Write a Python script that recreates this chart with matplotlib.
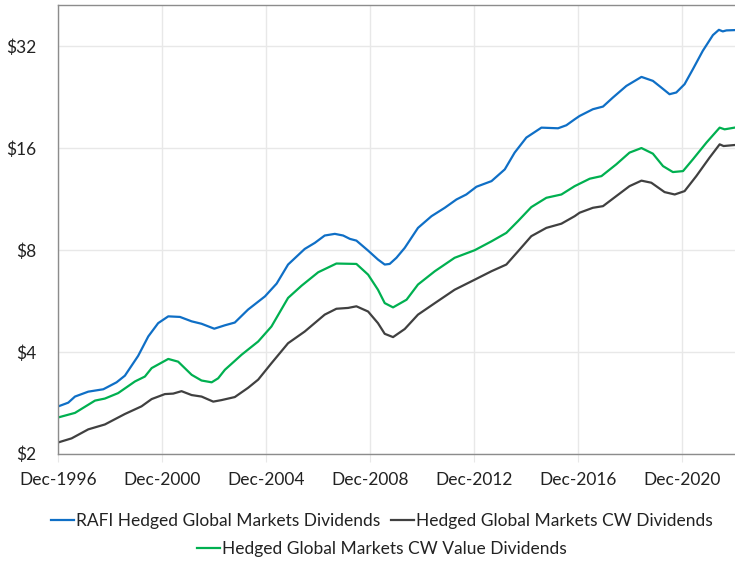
import matplotlib
matplotlib.use("Agg")
import matplotlib.pyplot as plt
from matplotlib.ticker import FixedLocator, NullLocator
from matplotlib.lines import Line2D

plt.rcParams['font.family'] = ['Lato', 'DejaVu Sans']

# decimal years (Dec-1996 = 1996.917) and growth of $2
rafi_t = [1996.92, 1997.30, 1997.56, 1998.07, 1998.65, 1999.16, 1999.48, 1999.99, 2000.38, 2000.76,
          2001.15, 2001.60, 2002.05, 2002.43, 2002.92, 2003.33, 2003.71, 2004.22, 2004.87, 2005.32,
          2005.76, 2006.40, 2006.79, 2007.17, 2007.56, 2007.88, 2008.14, 2008.39, 2008.84, 2009.22,
          2009.48, 2009.67, 2009.93, 2010.25, 2010.76, 2011.28, 2011.79, 2012.24, 2012.62, 2013.01,
          2013.59, 2014.10, 2014.48, 2014.93, 2015.51, 2016.15, 2016.47, 2016.79, 2016.98, 2017.49,
          2017.88, 2018.26, 2018.78, 2019.36, 2019.80, 2020.12, 2020.44, 2020.70, 2021.02, 2021.34,
          2021.72, 2022.11, 2022.34, 2022.49, 2022.63, 2022.94]
rafi_v = [2.76, 2.83, 2.95, 3.05, 3.10, 3.25, 3.40, 3.89, 4.44, 4.86,
          5.09, 5.07, 4.92, 4.84, 4.68, 4.79, 4.88, 5.33, 5.83, 6.36,
          7.24, 8.05, 8.39, 8.82, 8.92, 8.82, 8.62, 8.52, 7.96, 7.49,
          7.24, 7.27, 7.58, 8.11, 9.29, 10.06, 10.65, 11.27, 11.66, 12.29,
          12.77, 13.83, 15.50, 17.17, 18.37, 18.29, 18.67, 19.44, 19.89, 20.82,
          21.20, 22.54, 24.40, 25.94, 25.25, 24.14, 23.06, 23.33, 24.69, 27.34,
          30.97, 34.47, 35.73, 35.35, 35.59, 35.66]

cw_t = [1996.92, 1997.43, 1998.07, 1998.71, 1999.48, 2000.12, 2000.51, 2001.02, 2001.34, 2001.66,
        2002.05, 2002.43, 2002.88, 2003.20, 2003.71, 2004.22, 2004.61, 2005.12, 2005.76, 2006.40,
        2007.17, 2007.62, 2008.07, 2008.39, 2008.84, 2009.22, 2009.48, 2009.80, 2010.25, 2010.76,
        2011.41, 2012.17, 2012.94, 2013.59, 2014.16, 2014.61, 2015.12, 2015.70, 2016.28, 2016.79,
        2016.98, 2017.49, 2017.88, 2018.39, 2018.90, 2019.36, 2019.74, 2020.25, 2020.64, 2021.02,
        2021.47, 2021.98, 2022.37, 2022.52, 2022.94]
cw_v = [2.16, 2.22, 2.36, 2.44, 2.62, 2.76, 2.90, 3.00, 3.01, 3.06,
        2.98, 2.95, 2.85, 2.88, 2.94, 3.13, 3.31, 3.70, 4.24, 4.59,
        5.15, 5.36, 5.39, 5.45, 5.26, 4.86, 4.52, 4.42, 4.67, 5.15,
        5.57, 6.10, 6.53, 6.92, 7.24, 7.92, 8.78, 9.29, 9.56, 10.06,
        10.30, 10.65, 10.77, 11.53, 12.34, 12.81, 12.63, 11.85, 11.66, 11.93,
        13.21, 14.98, 16.40, 16.21, 16.32]

val_t = [1996.92, 1997.56, 1998.33, 1998.71, 1999.22, 1999.87, 2000.25, 2000.51, 2001.15, 2001.53,
         2002.05, 2002.43, 2002.82, 2003.07, 2003.33, 2003.71, 2003.97, 2004.61, 2005.12, 2005.76,
         2006.28, 2006.92, 2007.62, 2008.39, 2008.84, 2009.22, 2009.48, 2009.80, 2010.32, 2010.76,
         2011.41, 2012.17, 2012.94, 2013.59, 2014.16, 2014.61, 2015.12, 2015.70, 2016.28, 2016.79,
         2017.37, 2017.82, 2018.39, 2018.90, 2019.36, 2019.80, 2020.19, 2020.57, 2020.96, 2021.34,
         2021.86, 2022.37, 2022.56, 2022.94]
val_v = [2.56, 2.64, 2.87, 2.91, 3.02, 3.27, 3.38, 3.58, 3.81, 3.74,
         3.42, 3.29, 3.25, 3.34, 3.54, 3.76, 3.92, 4.29, 4.75, 5.77,
         6.27, 6.87, 7.29, 7.27, 6.76, 6.10, 5.57, 5.41, 5.70, 6.32,
         6.92, 7.58, 7.98, 8.48, 8.98, 9.73, 10.70, 11.40, 11.66, 12.34,
         12.98, 13.21, 14.31, 15.50, 15.99, 15.39, 14.14, 13.58, 13.67, 14.81,
         16.59, 18.37, 18.16, 18.37]

names = ['RAFI Hedged Global Markets Dividends',
         'Hedged Global Markets CW Dividends',
         'Hedged Global Markets CW Value Dividends']
colors = ['#0F6FC6', '#404040', '#00B050']

x_ticks = [1996.917, 2000.917, 2004.917, 2008.917, 2012.917, 2016.917, 2020.917]
x_labels = ['Dec-1996', 'Dec-2000', 'Dec-2004', 'Dec-2008', 'Dec-2012', 'Dec-2016', 'Dec-2020']
y_ticks = [2, 4, 8, 16, 32]
y_labels = ['$2', '$4', '$8', '$16', '$32']

fig = plt.figure(figsize=(7.35, 5.62), dpi=100)
ax = fig.add_axes([0.0793, 0.1927, 0.9207, 0.7984])

ax.plot(rafi_t, rafi_v, color=colors[0], lw=1.6, solid_joinstyle='round')
ax.plot(cw_t, cw_v, color=colors[1], lw=1.6, solid_joinstyle='round')
ax.plot(val_t, val_v, color=colors[2], lw=1.6, solid_joinstyle='round')

ax.set_yscale('log', base=2)
ax.set_ylim(2, 42.3)
ax.set_xlim(1996.917, 2022.96)
ax.yaxis.set_major_locator(FixedLocator(y_ticks))
ax.yaxis.set_minor_locator(NullLocator())
ax.set_yticklabels(y_labels)
ax.set_xticks(x_ticks)
ax.set_xticklabels(x_labels)

ax.grid(True, color='#E8E8E8', lw=1)
ax.set_axisbelow(True)
ax.tick_params(axis='x', length=6, color='#E8E8E8', pad=7, labelsize=12.5, labelcolor='#222222')
ax.tick_params(axis='y', length=0, pad=16, labelsize=12.5, labelcolor='#222222')

for s in ['left', 'top', 'bottom']:
    ax.spines[s].set_color('#8C8C8C')
    ax.spines[s].set_linewidth(1)
ax.spines['right'].set_visible(False)

h = [Line2D([], [], color=c, lw=1.6) for c in colors]
leg1 = fig.legend(h[:2], names[:2], loc='center', bbox_to_anchor=(0.52, 0.073), ncol=2,
                  frameon=False, fontsize=12.5, handlelength=1.3, handletextpad=0.15,
                  columnspacing=0.6)
leg2 = fig.legend(h[2:], names[2:], loc='center', bbox_to_anchor=(0.52, 0.023),
                  frameon=False, fontsize=12.5, handlelength=1.3, handletextpad=0.15)
for lg in (leg1, leg2):
    for t in lg.get_texts():
        t.set_color('#222222')

fig.savefig('out.png', dpi=100)
